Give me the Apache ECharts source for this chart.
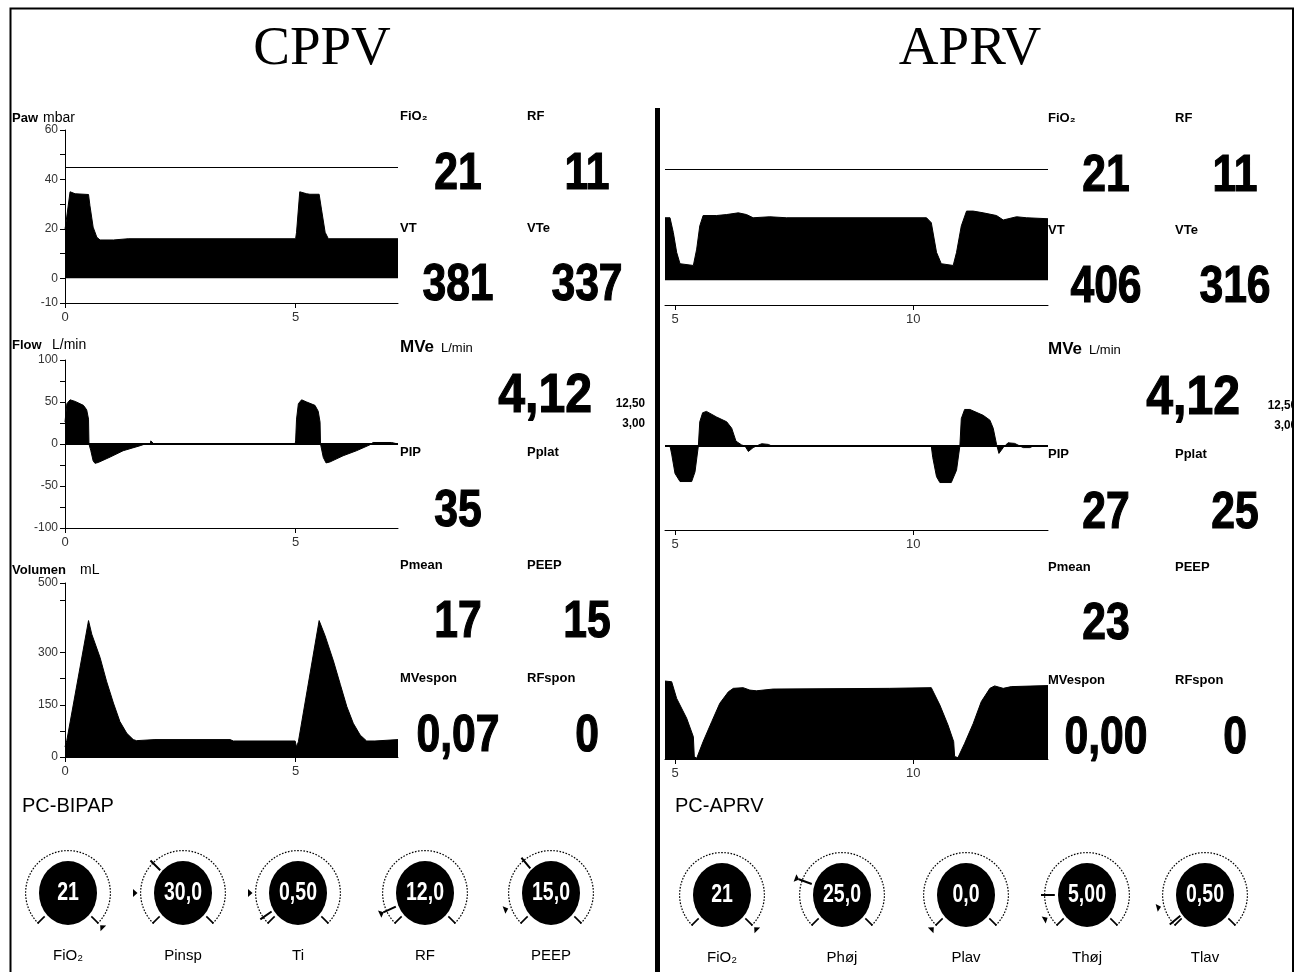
<!DOCTYPE html>
<html><head><meta charset="utf-8">
<script src="https://cdn.jsdelivr.net/npm/echarts@6/dist/echarts.min.js"></script>
<style>html,body{margin:0;padding:0;background:#fff}#c{width:1296px;height:972px}</style>
</head><body><div id="c"></div><script>
// ================= DATA =================
const panelTitles = ['CPPV', 'APRV'];
const waveNames = ['Paw', 'Flow', 'Volumen'];
const waveUnits = ['mbar', 'L/min', 'mL'];

// CPPV waveforms [time s, value]
const cppvPaw = [[0,20],[0.01,21],[0.11,35],[0.14,35.5],[0.22,34.2],[0.25,33.9],[0.51,33.9],[0.54,29.5],[0.61,20.7],[0.69,16.6],[0.76,15.5],[1.05,15.5],[1.37,16],[5.0,16],[5.02,18.6],[5.09,35],[5.13,35.5],[5.24,34.2],[5.31,34],[5.51,34],[5.56,28],[5.64,18.6],[5.71,16],[7.22,16]];
const cppvFlow = [[0,26],[0.04,48],[0.11,52.6],[0.22,50.7],[0.4,46],[0.47,40.7],[0.51,29.6],[0.52,0],[0.56,-8],[0.61,-20],[0.65,-23],[0.72,-22],[0.98,-15.5],[1.26,-8],[1.63,-2],[1.7,-0.7],[1.77,0],[1.85,0],[1.86,3.7],[1.9,3.7],[1.93,0],[4.99,0],[5.0,3.7],[5.02,29.6],[5.06,48],[5.13,52.6],[5.24,50],[5.42,46],[5.49,39],[5.53,26],[5.54,0],[5.6,-16],[5.66,-22.5],[5.74,-21.5],[6.03,-14],[6.32,-8],[6.61,-1],[6.65,0],[6.68,1.8],[7.08,1.8],[7.12,0],[7.22,0]];
const cppvVolume = [[0,29],[0.04,48],[0.51,392],[0.58,353],[0.76,286],[0.9,218],[1.05,155],[1.19,102],[1.34,68],[1.48,50],[1.55,47],[1.95,50],[3.58,50],[3.65,46],[4.99,46],[5.02,29],[5.06,44],[5.51,392],[5.64,348],[5.82,276],[5.97,208],[6.11,145],[6.25,97],[6.4,63],[6.54,46],[6.72,46],[6.76,50],[7.22,50]];

// APRV waveforms [time s, value]
const aprvPaw = [[4.79,25.3],[4.895,25.3],[4.965,19.3],[5.035,11.3],[5.105,6.7],[5.385,6],[5.455,12.6],[5.52,22],[5.59,26.2],[5.87,26.2],[6.085,26.6],[6.33,27.3],[6.5,26.6],[6.64,25.3],[6.99,25.7],[7.34,25.3],[10.28,25.3],[10.38,23.3],[10.49,11.3],[10.59,6.7],[10.84,6],[10.91,11.3],[11.01,22],[11.12,28],[11.26,28],[11.47,27.3],[11.75,26.2],[11.89,24.4],[12.17,25.7],[12.38,25.3],[12.83,24.9]];
const aprvFlow = [[4.79,0],[4.895,0],[4.93,-9.6],[5.0,-32.7],[5.105,-42.3],[5.35,-42.3],[5.42,-30.8],[5.49,0],[5.52,28.8],[5.58,39.6],[5.66,41.2],[5.87,34.6],[6.085,28.8],[6.19,21.2],[6.28,5.8],[6.4,1.2],[6.47,0],[6.54,-6.5],[6.64,-1.9],[6.71,0],[6.82,2.7],[6.96,1.9],[7.03,0],[10.38,0],[10.41,-13.5],[10.49,-36.5],[10.56,-43.5],[10.8,-43.5],[10.91,-28.8],[10.98,0],[11.01,32.7],[11.08,43.5],[11.19,43.5],[11.47,36.5],[11.61,30.8],[11.68,21.2],[11.75,1.9],[11.8,-8.8],[11.89,-1.9],[11.99,3.8],[12.13,3.1],[12.24,0],[12.31,-1.9],[12.45,-1.9],[12.52,0],[12.83,0]];
const aprvVolume = [[4.79,224],[4.93,222],[5.035,174],[5.245,117],[5.385,64],[5.405,7],[5.455,2],[5.59,50],[5.77,107],[5.94,160],[6.12,193],[6.225,203],[6.43,205],[6.57,198],[6.71,196],[7.06,201],[9.5,203],[10.38,205],[10.56,155],[10.73,98],[10.85,50],[10.87,7],[10.94,4],[11.08,45],[11.26,102],[11.43,165],[11.61,203],[11.71,210],[11.89,203],[12.06,208],[12.83,211]];

// axis ranges and ticks
const pawRange = [-10, 60];
const flowRange = [-100, 100];
const volRange = [0, 500];
const pawTicks = [-10,0,10,20,30,40,50,60];
const pawTickLabels = [-10,0,20,40,60];
const flowTicks = [-100,-75,-50,-25,0,25,50,75,100];
const flowTickLabels = [-100,-50,0,50,100];
const volTicks = [0,75,150,225,300,450,500];
const volTickLabels = [0,150,300,500];
const cppvTimeRange = [0, 7.22];
const aprvTimeRange = [4.79, 12.83];
const cppvTimeTicks = [0,5];
const aprvTimeTicks = [5,10];
const pawAlarmLimit = 45;

// readouts
const readoutLabels = [['FiO₂','RF'],['VT','VTe'],['MVe'],['PIP','Pplat'],['Pmean','PEEP'],['MVespon','RFspon']];
const cppvReadouts = [['21','11'],['381','337'],['4,12'],['35',''],['17','15'],['0,07','0']];
const aprvReadouts = [['21','11'],['406','316'],['4,12'],['27','25'],['23',''],['0,00','0']];
const mveUnit = 'L/min';
const mveLimits = ['12,50','3,00'];

// knobs
const modeNames = ['PC-BIPAP','PC-APRV'];
const cppvKnobNames = ['FiO₂','Pinsp','Ti','RF','PEEP'];
const cppvKnobValues = ['21','30,0','0,50','12,0','15,0'];
const aprvKnobNames = ['FiO₂','Phøj','Plav','Thøj','Tlav'];
const aprvKnobValues = ['21','25,0','0,0','5,00','0,50'];

// ================= LAYOUT / STYLE =================
const SANS = '"Liberation Sans", Arial, Helvetica, sans-serif';
const SERIF = '"Liberation Serif", "Times New Roman", serif';
const sides = [
  {key:'cppv', x0:65, x1:398, dy:0, dx:0, trange:cppvTimeRange, tticks:cppvTimeTicks, showY:true,
   waves:[cppvPaw,cppvFlow,cppvVolume], readouts:cppvReadouts,
   knobX:[68,183,298,425,551], knobNames:cppvKnobNames, knobValues:cppvKnobValues,
   marks:[[270,null],[45,90],[45,10],[20,20],[25,95]]},
  {key:'aprv', x0:665, x1:1048, dy:2, dx:648, trange:aprvTimeRange, tticks:aprvTimeTicks, showY:false,
   waves:[aprvPaw,aprvFlow,aprvVolume], readouts:aprvReadouts,
   knobX:[722,842,966,1087,1205], knobNames:aprvKnobNames, knobValues:aprvKnobValues,
   marks:[[270,null],[65,65],[0,null],[15,45],[30,5]]}
];
const rowBox = [[130,303],[360,528],[583,757]];
const rowRanges = [pawRange, flowRange, volRange];
const rowTicks = [pawTicks, flowTicks, volTicks];
const rowTickLabels = [pawTickLabels, flowTickLabels, volTickLabels];

const grids = [], xAxes = [], yAxes = [], series = [], gfx = [];

function txt(x, y, text, font, o) {
  o = o || {};
  const st = {text:text, x:0, y:0, font:font, fill:o.fill||'#000',
      textAlign:o.align||'left', align:o.align||'left',
      textVerticalAlign:'middle', verticalAlign:'middle'};
  if (o.stroke) { st.stroke = o.stroke; st.lineWidth = o.lw || 1; }
  return {type:'text', x:x, y:y, scaleX:o.sx||1, scaleY:o.sy||1, z:o.z||50, silent:true, style:st};
}

function knobGauge(cx, cy, value, kind) {
  const base = {type:'gauge', center:[cx, cy], radius:43, startAngle:225, endAngle:-45, min:0, max:270,
    splitNumber:1, animation:false, silent:true, z:3,
    axisLine:{show:false, lineStyle:{width:0}}, progress:{show:false},
    axisLabel:{show:false}, title:{show:false}, detail:{show:false}, anchor:{show:false},
    data:[{value:value}]};
  if (kind === 'ring') {
    base.axisTick = {show:true, splitNumber:64, length:1.2, distance:0, lineStyle:{color:'#000', width:1.6}};
    base.splitLine = {show:true, length:10, distance:0, lineStyle:{color:'#000', width:1.6}};
    base.pointer = {show:true, icon:'path://M0,0L10,0L5,9Z M5,100L5.01,100Z', length:50, width:8, itemStyle:{color:'#000'}};
  } else {
    base.axisTick = {show:false};
    base.splitLine = {show:false};
    base.pointer = {show:true, icon:'path://M0,0L10,0L10,30L0,30Z M5,100L5.01,100Z', length:46, width:2, itemStyle:{color:'#000'}};
  }
  return base;
}

sides.forEach(function(s, si){
  rowBox.forEach(function(b, ri){
    const gi = grids.length;
    grids.push({left:s.x0, top:b[0]+s.dy, width:s.x1-s.x0, height:b[1]-b[0], containLabel:false, outerBoundsMode:'none'});
    xAxes.push({type:'value', gridIndex:gi, min:s.trange[0], max:s.trange[1],
      axisLine:{show:true, onZero:false, lineStyle:{color:'#000', width:1}},
      axisTick:{show:true, customValues:s.tticks, length:5, lineStyle:{color:'#000', width:1}},
      axisLabel:{show:true, customValues:s.tticks, fontSize:13, color:'#333', fontFamily:SANS, margin:8},
      splitLine:{show:false}});
    const rng = rowRanges[ri];
    yAxes.push({type:'value', gridIndex:gi, min:rng[0], max:rng[1], show:s.showY,
      axisLine:{show:true, lineStyle:{color:'#000', width:1}},
      axisTick:{show:true, customValues:rowTicks[ri], length:5, lineStyle:{color:'#000', width:1}},
      axisLabel:{show:true, customValues:rowTickLabels[ri], fontSize:12, color:'#333', fontFamily:SANS, margin:7},
      splitLine:{show:false}});
    const ser = {type:'line', xAxisIndex:gi, yAxisIndex:gi, data:s.waves[ri], showSymbol:false, symbol:'none',
      smooth:false, silent:true, animation:false, z:2,
      lineStyle:{color:'#000', width:1}, areaStyle:{color:'#000', opacity:1}};
    if (ri === 0) ser.markLine = {silent:true, symbol:['none','none'], label:{show:false}, animation:false,
      lineStyle:{color:'#000', width:1, type:'solid'}, data:[{yAxis:pawAlarmLimit}]};
    if (ri === 1) ser.markLine = {silent:true, symbol:['none','none'], label:{show:false}, animation:false,
      lineStyle:{color:'#000', width:2, type:'solid'}, data:[{yAxis:0}]};
    series.push(ser);
  });

  // wave titles (left side only)
  if (si === 0) {
    const ty = [118, 345, 570];
    const ux = [43, 52, 80];
    waveNames.forEach(function(n, i){
      gfx.push(txt(12, ty[i], n, 'bold 13px ' + SANS));
      gfx.push(txt(ux[i], ty[i], waveUnits[i], '14px ' + SANS));
    });
  }

  // panel title
  gfx.push(txt(si === 0 ? 322 : 970, 50, panelTitles[si], '55px ' + SERIF, {align:'center'}));

  // readouts
  const labY = [116, 228, 347, 452, 565, 678];
  const valY = [175, 286, 397, 512, 623, 737];
  const colLab = [400, 527];
  const colVal = [458, 587];
  const big = {align:'center', sx:0.82, stroke:'#000', lw:1.2};
  readoutLabels.forEach(function(row, r){
    if (r === 2) {
      gfx.push(txt(colLab[0]+s.dx, labY[r]+s.dy, row[0], 'bold 17px ' + SANS));
      gfx.push(txt(colLab[0]+s.dx+41, labY[r]+s.dy+1, mveUnit, '13px ' + SANS));
      gfx.push(txt(592+s.dx, valY[r]+s.dy, s.readouts[r][0], 'bold 56px ' + SANS, {align:'right', sx:0.86, stroke:'#000', lw:1.2}));
      gfx.push(txt(645+s.dx+(si?4:0), 403+s.dy, mveLimits[0], 'bold 13px ' + SANS, {align:'right', sx:0.9}));
      gfx.push(txt(645+s.dx+(si?4:0), 423+s.dy, mveLimits[1], 'bold 13px ' + SANS, {align:'right', sx:0.9}));
    } else {
      row.forEach(function(lab, c){
        gfx.push(txt(colLab[c]+s.dx, labY[r]+s.dy, lab, 'bold 13px ' + SANS));
        const v = s.readouts[r][c];
        if (v) gfx.push(txt(colVal[c]+s.dx, valY[r]+s.dy, v, 'bold 52px ' + SANS, big));
      });
    }
  });

  // mode name
  gfx.push(txt(si === 0 ? 22 : 675, 806, modeNames[si], '20px ' + SANS));

  // knobs
  const ky = 893 + s.dy;
  s.knobX.forEach(function(kx, k){
    gfx.push({type:'circle', x:kx, y:ky, scaleY:1.1, z:40, silent:true, shape:{cx:0, cy:0, r:29}, style:{fill:'#000'}});
    gfx.push(txt(kx, ky, s.knobValues[k], 'bold 26px ' + SANS, {align:'center', sx:0.75, fill:'#fff', z:45}));
    gfx.push(txt(kx, 956 + s.dy, s.knobNames[k], '15px ' + SANS, {align:'center'}));
    const m = s.marks[k];
    series.push(knobGauge(kx, ky, m[0], 'ring'));
    if (m[1] !== null) series.push(knobGauge(kx, ky, m[1], 'line'));
  });
});

// frame and divider
gfx.push({type:'rect', z:60, silent:true, shape:{x:1294, y:0, width:2, height:972}, style:{fill:'#fff'}});
gfx.push({type:'rect', z:61, silent:true, shape:{x:10.5, y:8.5, width:1282.5, height:980}, style:{fill:null, stroke:'#000', lineWidth:2}});
gfx.push({type:'rect', z:61, silent:true, shape:{x:655, y:108, width:5, height:864}, style:{fill:'#000'}});

const chart = echarts.init(document.getElementById('c'), null, {renderer:'canvas', width:1296, height:972});
chart.setOption({backgroundColor:'#fff', animation:false, grid:grids, xAxis:xAxes, yAxis:yAxes, series:series, graphic:{elements:gfx}});
</script></body></html>
